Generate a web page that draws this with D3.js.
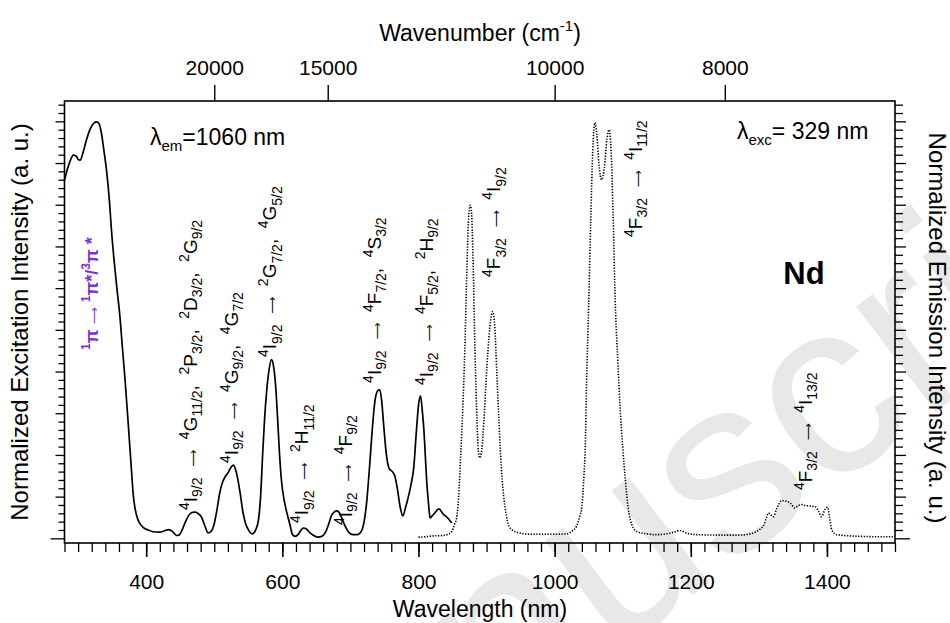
<!DOCTYPE html>
<html><head><meta charset="utf-8">
<script src="https://cdn.jsdelivr.net/npm/d3@7"></script>
<style>
body{margin:0;background:#fff;}
svg text{font-family:"Liberation Sans",Arial,sans-serif;white-space:pre;}
</style></head><body>
<svg id="c" width="950" height="623"></svg>
<script>
// ---------- data ----------
const excWavelength = [280,284,288,293,297,300,303,307,312,317,322,327,331,334,338,342,346,349,353,357,361,365,369,373,376,379,381,384,387,391,396,403,410,420,428,433,439,445,449,453,457,462,467,471,476,481,486,491,495,499,504,508,512,516,520,524,528,531,534,538,542,546,550,556,561,565,568,571,574,577,580,584,587,590,593,596,599,603,607,611,615,619,623,627,631,635,639,645,652,659,664,668,672,676,680,684,688,693,698,704,710,716,720,724,728,732,736,740,743,746,749,753,757,761,765,769,773,777,781,785,789,793,797,800,803,806,808,810,812,815,817,820,824,830,836,843,849];
const excIntensity = [0.86,0.885,0.905,0.92,0.918,0.91,0.908,0.925,0.955,0.98,0.995,1.0,0.995,0.975,0.93,0.88,0.81,0.74,0.665,0.6,0.54,0.46,0.38,0.29,0.22,0.15,0.105,0.07,0.05,0.036,0.027,0.021,0.017,0.016,0.02,0.022,0.017,0.008,0.01,0.022,0.038,0.055,0.063,0.064,0.061,0.053,0.032,0.014,0.017,0.03,0.07,0.11,0.135,0.149,0.158,0.17,0.177,0.168,0.148,0.11,0.065,0.037,0.022,0.012,0.022,0.046,0.1,0.2,0.29,0.355,0.4,0.43,0.415,0.37,0.29,0.2,0.135,0.09,0.06,0.035,0.01,0.006,0.01,0.02,0.026,0.024,0.017,0.009,0.004,0.007,0.018,0.035,0.055,0.064,0.067,0.062,0.047,0.028,0.015,0.01,0.01,0.018,0.04,0.09,0.17,0.26,0.33,0.355,0.358,0.33,0.27,0.2,0.168,0.162,0.152,0.12,0.077,0.055,0.075,0.1,0.13,0.17,0.26,0.32,0.343,0.3,0.26,0.2,0.14,0.08,0.05,0.055,0.062,0.072,0.06,0.05,0.038];

const emWavelength = [800,810,822,835,842,849,853,856,859,862,865,868,871,874,876,878,880,883,886,888,890,893,896,899,902,905,909,912,915,918,920,923,927,932,937,949,965,980,1000,1018,1026,1032,1037,1040,1043,1045,1047,1050,1053,1056,1059,1062,1065,1069,1073,1077,1080,1083,1086,1089,1093,1096,1100,1104,1108,1111,1120,1135,1150,1165,1175,1184,1195,1210,1240,1270,1285,1297,1303,1307,1311,1314,1318,1321,1327,1334,1340,1346,1353,1358,1363,1368,1373,1378,1383,1388,1392,1397,1401,1404,1407,1414,1425,1450,1475,1497];
const emIntensity = [0.004,0.005,0.007,0.008,0.01,0.018,0.035,0.05,0.1,0.2,0.31,0.45,0.64,0.78,0.8,0.78,0.68,0.45,0.28,0.21,0.194,0.215,0.28,0.37,0.45,0.51,0.545,0.51,0.4,0.29,0.22,0.14,0.077,0.035,0.022,0.014,0.011,0.011,0.011,0.012,0.019,0.03,0.055,0.077,0.15,0.22,0.38,0.56,0.76,0.93,0.998,0.97,0.9,0.861,0.89,0.96,0.981,0.93,0.77,0.57,0.42,0.32,0.22,0.14,0.075,0.047,0.018,0.012,0.01,0.012,0.016,0.02,0.013,0.01,0.009,0.009,0.011,0.018,0.025,0.032,0.05,0.062,0.057,0.053,0.075,0.092,0.09,0.086,0.074,0.08,0.082,0.08,0.079,0.078,0.077,0.065,0.053,0.07,0.076,0.05,0.022,0.01,0.008,0.006,0.005,0.005];

const wavelengthTicks = [400,600,800,1000,1200,1400];
const wavenumberTicks = [20000,15000,10000,8000];

// transition labels: anchor wavelength, start intensity, text (^{} sup, _{} sub)
const labelLambda = [474.7,535,591,638,702,745,821,920,1128,1378];
const labelValue  = [0.069,0.182,0.436,0.038,0.033,0.374,0.369,0.628,0.724,0.117];
const labelText = [
 "^{4}I_{9/2}  →  ^{4}G_{11/2},  ^{2}P_{3/2},  ^{2}D_{3/2},  ^{2}G_{9/2}",
 "^{4}I_{9/2}  →  ^{4}G_{9/2},  ^{4}G_{7/2}",
 "^{4}I_{9/2}  →  ^{2}G_{7/2},  ^{4}G_{5/2}",
 "^{4}I_{9/2}  →  ^{2}H_{11/2}",
 "^{4}I_{9/2}  →  ^{4}F_{9/2}",
 "^{4}I_{9/2}  →  ^{4}F_{7/2},  ^{4}S_{3/2}",
 "^{4}I_{9/2}  →  ^{4}F_{5/2},  ^{2}H_{9/2}",
 "^{4}F_{3/2}  →  ^{4}I_{9/2}",
 "^{4}F_{3/2}  →  ^{4}I_{11/2}",
 "^{4}F_{3/2}  →  ^{4}I_{13/2}"
];
const ligandLabel = "^{1}π → ^{1}π*/^{3}π *";

// ---------- drawing ----------
const svg = d3.select("#c");
const x = d3.scaleLinear().domain([280,1500]).range([64.5,895]);
const y = d3.scaleLinear().domain([-0.01,1.05]).range([543,101]);

function rich(sel, str, size, small, arrowSize) {
  const re = /(\^|_)\{([^}]*)\}|(→)|([^\^_→]+)/g;
  let m, cur = 0;
  while ((m = re.exec(str))) {
    let target = 0, fs = size, txt, fam = null;
    if (m[1] === '^') { target = -size*0.42; fs = small; txt = m[2]; }
    else if (m[1] === '_') { target = size*0.28; fs = small; txt = m[2]; }
    else if (m[3]) { txt = "\u27F6"; fs = arrowSize || size; fam = "DejaVu Sans"; }
    else { txt = m[4]; }
    const ts = sel.append("tspan").attr("dy", (target - cur).toFixed(2)).attr("font-size", fs).text(txt);
    if (fam) ts.attr("font-family", fam).attr("font-weight","normal");
    cur = target;
  }
}

// watermark
svg.append("text")
  .attr("transform","translate(223,949) rotate(-37)")
  .attr("font-size",250).attr("fill","#e8e8e8")
  .text("Manuscript");

// frame
svg.append("rect").attr("x",x(280)).attr("y",y(1.05))
  .attr("width",x(1500)-x(280)).attr("height",y(-0.01)-y(1.05))
  .attr("fill","none").attr("stroke","#000").attr("stroke-width",1.6);

// bottom axis
const gBottom = svg.append("g").attr("transform",`translate(0,${y(-0.01)})`);
gBottom.call(d3.axisBottom(x).tickValues(d3.range(280,1501,20)).tickSize(9).tickFormat(""))
  .call(g=>g.select(".domain").remove())
  .call(g=>g.selectAll("line").attr("stroke-width",1.3));
const gBottom2 = svg.append("g").attr("transform",`translate(0,${y(-0.01)})`);
gBottom2.call(d3.axisBottom(x).tickValues(wavelengthTicks).tickSize(14).tickPadding(17).tickFormat(d=>String(d)))
  .call(g=>g.select(".domain").remove())
  .call(g=>g.selectAll("line").attr("stroke-width",1.6))
  .call(g=>g.selectAll("text").attr("font-size",21).attr("font-family","Liberation Sans, Arial, sans-serif"));

// top axis (wavenumber)
const gTop = svg.append("g").attr("transform",`translate(0,${y(1.05)})`);
gTop.call(d3.axisTop(x).tickValues(wavenumberTicks.map(k=>1e7/k)).tickSize(16).tickPadding(10)
    .tickFormat((d,i)=>String(wavenumberTicks[i])))
  .call(g=>g.select(".domain").remove())
  .call(g=>g.selectAll("line").attr("stroke-width",1.4))
  .call(g=>g.selectAll("text").attr("font-size",21).attr("font-family","Liberation Sans, Arial, sans-serif"));

// left axis
const yTickVals = d3.range(0,1.041,0.02).map(v=>+v.toFixed(2));
const isMajor = d => Math.abs(d*10-Math.round(d*10))<1e-6;
const gLeft = svg.append("g").attr("transform",`translate(${x(280)},0)`);
gLeft.selectAll("line").data(yTickVals).join("line")
  .attr("x1",d=> d===0?-14:(isMajor(d)?-9:-6)).attr("x2",0)
  .attr("y1",d=>y(d)).attr("y2",d=>y(d)).attr("stroke","#000").attr("stroke-width",1.3);
// right axis
const gRight = svg.append("g").attr("transform",`translate(${x(1500)},0)`);
gRight.selectAll("line").data(yTickVals).join("line")
  .attr("x1",0).attr("x2",d=> d===0?15:(isMajor(d)?11:8))
  .attr("y1",d=>y(d)).attr("y2",d=>y(d)).attr("stroke","#000").attr("stroke-width",1.3);

// curves
const lineGen = d3.line().x(d=>x(d[0])).y(d=>y(d[1])).curve(d3.curveMonotoneX);
svg.append("path").datum(excWavelength.map((w,i)=>[w,excIntensity[i]]))
  .attr("d",lineGen).attr("fill","none").attr("stroke","#000").attr("stroke-width",1.7);
svg.append("path").datum(emWavelength.map((w,i)=>[w,emIntensity[i]]))
  .attr("d",lineGen).attr("fill","none").attr("stroke","#000").attr("stroke-width",1.6)
  .attr("stroke-dasharray","1.3,1.5");

// axis titles
svg.append("text").attr("x",480).attr("y",617).attr("text-anchor","middle").attr("font-size",23)
  .text("Wavelength (nm)");
const tt = svg.append("text").attr("x",480).attr("y",41).attr("text-anchor","middle");
rich(tt,"Wavenumber (cm^{-1})",23,15);
svg.append("text").attr("transform","translate(28,322) rotate(-90)").attr("text-anchor","middle")
  .attr("font-size",24).text("Normalized Excitation Intensity (a. u.)");
svg.append("text").attr("transform","translate(929,328) rotate(90)").attr("text-anchor","middle")
  .attr("font-size",24).text("Normalized Emission Intensity (a. u.)");

// annotations
const emT = svg.append("text").attr("x",150).attr("y",145);
rich(emT,"λ_{em}=1060 nm",23,15);
const exT = svg.append("text").attr("x",737).attr("y",139);
rich(exT,"λ_{exc}= 329 nm",23,15);
svg.append("text").attr("x",804).attr("y",284).attr("text-anchor","middle")
  .attr("font-size",31).attr("font-weight","bold").text("Nd");

labelText.forEach((t,i)=>{
  const g = svg.append("text")
    .attr("transform",`translate(${x(labelLambda[i])},${y(labelValue[i])}) rotate(-90)`);
  rich(g,t,19,14,12);
});
const lig = svg.append("text")
  .attr("transform",`translate(${x(329)},${y(0.453)}) rotate(-90)`).attr("fill","#7b30d4")
  .attr("font-weight","bold");
rich(lig,ligandLabel,18,12,12);
</script>
</body></html>
